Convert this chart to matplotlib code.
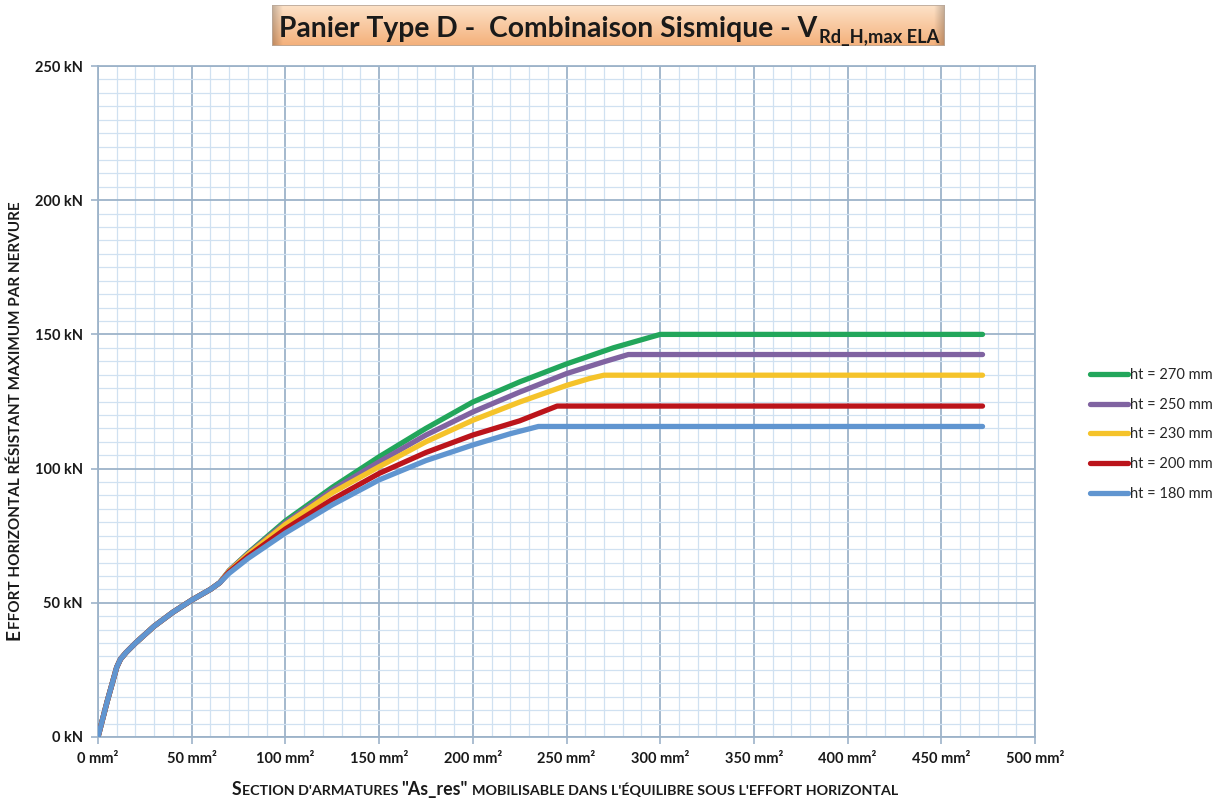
import numpy as np
import matplotlib
matplotlib.use("Agg")
import matplotlib.pyplot as plt
from matplotlib.ticker import MultipleLocator, FuncFormatter
from matplotlib.patches import Rectangle

FONT = ['Lato', 'DejaVu Sans']
plt.rcParams['font.family'] = FONT

# ---- data: As_res (mm²) -> V_Rd,H,max (kN) ----
as_common = [0, 5, 10, 12, 15, 20, 30, 40, 50, 60, 65]
v_common = [0, 13.5, 26, 29, 31.5, 35, 41.3, 46.5, 51, 55, 57.5]

series_labels = ["ht = 270 mm", "ht = 250 mm", "ht = 230 mm", "ht = 200 mm", "ht = 180 mm"]
series_colors = ['#22a65b', '#8063a1', '#f5c32a', '#bb141b', '#6095d0']

as_270 = [70, 80, 100, 125, 150, 175, 200, 225, 250, 275, 290, 300, 472]
v_270 = [62, 68.5, 80.5, 93, 104.4, 115, 124.8, 132.3, 139, 145, 148, 150, 150]
as_250 = [70, 80, 100, 125, 150, 175, 200, 225, 250, 270, 283, 472]
v_250 = [62, 68.3, 79.8, 92, 102.5, 112.5, 121.1, 128.5, 135.4, 139.8, 142.5, 142.5]
as_230 = [70, 80, 100, 125, 150, 175, 200, 225, 250, 262, 270, 472]
v_230 = [61.8, 68, 79.2, 91, 100.7, 110, 118, 124.8, 131, 133.5, 134.8, 134.8]
as_200 = [70, 80, 100, 125, 150, 175, 200, 225, 245, 472]
v_200 = [61.5, 67.3, 77.5, 88.5, 98.2, 106, 112.5, 117.8, 123.3, 123.3]
as_180 = [70, 80, 100, 125, 150, 175, 200, 220, 235, 472]
v_180 = [61, 66.5, 76, 86.5, 95.8, 103, 108.8, 113, 115.7, 115.7]

series_x = [as_270, as_250, as_230, as_200, as_180]
series_y = [v_270, v_250, v_230, v_200, v_180]

x_max, x_major, x_minor = 500, 50, 10
y_max, y_major, y_minor = 250, 50, 5

# ---- figure ----
W, H = 1231, 801
fig = plt.figure(figsize=(W / 100, H / 100), dpi=100)
fig.patch.set_facecolor('white')
ax = fig.add_axes([98 / W, 1 - 737 / H, (1035 - 98) / W, (737 - 66) / H])

for xs, ys, lab, col in zip(series_x, series_y, series_labels, series_colors):
    ax.plot(as_common + xs, v_common + ys, color=col, lw=3.8, label=lab,
            solid_capstyle='round', solid_joinstyle='round', zorder=3)

ax.set_xlim(0, x_max)
ax.set_ylim(0, y_max)
ax.xaxis.set_major_locator(MultipleLocator(x_major))
ax.xaxis.set_minor_locator(MultipleLocator(x_minor))
ax.yaxis.set_major_locator(MultipleLocator(y_major))
ax.yaxis.set_minor_locator(MultipleLocator(y_minor))
ax.xaxis.set_major_formatter(FuncFormatter(lambda v, p: f"{int(round(v))} mm²"))
ax.yaxis.set_major_formatter(FuncFormatter(lambda v, p: f"{int(round(v))} kN"))

ax.grid(which='minor', color='#d0e1f1', lw=0.9, zorder=0)
ax.grid(which='major', color='#9db3c9', lw=1.3, zorder=1)
ax.set_axisbelow(True)
for s in ax.spines.values():
    s.set_color('#9db3c9')
    s.set_linewidth(1.3)

ax.tick_params(which='major', direction='out', length=5, width=1.2, color='#9db3c9',
               labelsize=10.5, labelcolor='#1a1a1a', pad=6)
ax.tick_params(which='minor', length=0)
for lbl in ax.get_xticklabels() + ax.get_yticklabels():
    lbl.set_fontweight('bold')

leg = ax.legend(loc='center left', bbox_to_anchor=(1090 / W, 1 - 434.5 / H),
                bbox_transform=fig.transFigure, frameon=False, fontsize=10.5,
                handlelength=2.6, handletextpad=0.15, labelspacing=1.08,
                borderpad=0, borderaxespad=0)
for t in leg.get_texts():
    t.set_color('#262626')

renderer = fig.canvas.get_renderer()


def px_to_fig(px, py):
    return px / W, 1 - py / H


def measure(txt, size, weight='bold'):
    t = fig.text(0, 0, txt, fontsize=size, fontweight=weight, family=FONT)
    w = t.get_window_extent(renderer).width
    t.remove()
    return w


def space_width(size):
    return measure("x x", size) - measure("xx", size)


def draw_runs(runs, x0, y0, target_len, vertical=False, color='#1a1a1a'):
    """Draw (text, size, space_after) runs end to end, scaled to a total length."""
    def total(scale):
        tot = 0.0
        for s, sz, gap in runs:
            tot += measure(s, sz * scale)
            if gap:
                tot += space_width(sz * scale)
        return tot

    scale = target_len / total(1.0)
    pos = y0 if vertical else x0
    for s, sz, gap in runs:
        sz = sz * scale
        if vertical:
            fx, fy = px_to_fig(x0, pos)
            t = fig.text(fx, fy, s, fontsize=sz, fontweight='bold', color=color,
                         rotation=90, rotation_mode='anchor', ha='left', va='baseline',
                         family=FONT)
            pos -= t.get_window_extent(renderer).height
            if gap:
                pos -= space_width(sz)
        else:
            fx, fy = px_to_fig(pos, y0)
            t = fig.text(fx, fy, s, fontsize=sz, fontweight='bold', color=color,
                         ha='left', va='baseline', family=FONT)
            pos += t.get_window_extent(renderer).width
            if gap:
                pos += space_width(sz)
    return scale


# axis titles in small capitals
big, small = 12.0, 9.6
x_runs = [("S", big, False), ("ECTION D'ARMATURES", small, True), ('"As_res"', big, True),
          ("MOBILISABLE DANS L'ÉQUILIBRE SOUS L'EFFORT HORIZONTAL", small, False)]
draw_runs(x_runs, 232, 795, 671)

y_runs = [("E", big, False), ("FFORT HORIZONTAL RÉSISTANT MAXIMUM PAR NERVURE", small, False)]
draw_runs(y_runs, 20, 640, 443, vertical=True)

# ---- title banner ----
tx0, tx1, ty0, ty1 = 272, 945, 5, 46
tax = fig.add_axes([tx0 / W, 1 - ty1 / H, (tx1 - tx0) / W, (ty1 - ty0) / H])
ny, nx = 60, 400
top = np.array([253, 226, 200]) / 255
bot = np.array([244, 176, 122]) / 255
v = np.linspace(0, 1, ny)[:, None, None]
grad = top * (1 - v) + bot * v
hx = np.linspace(0, 1, nx)
edge = np.clip(1 - np.minimum(hx, 1 - hx) / 0.015, 0, 1)
shade = 1 - 0.22 * edge[None, :, None]
img = np.clip(grad * shade, 0, 1)
tax.imshow(img, aspect='auto', extent=[0, 1, 0, 1], interpolation='bilinear')
tax.add_patch(Rectangle((0, 0), 1, 1, transform=tax.transAxes, fill=False,
                        edgecolor='#b9a89a', lw=1.2))
tax.set_xlim(0, 1)
tax.set_ylim(0, 1)
tax.set_axis_off()

main_title = "Panier Type D -  Combinaison Sismique - V"
sub_title = "Rd_H,max ELA"
w0 = measure(main_title, 20)
tsize = 20 * 537 / w0
fx, fy = px_to_fig(279, 37)
tm = fig.text(fx, fy, main_title, fontsize=tsize, fontweight='bold', color='#1a1a1a',
              ha='left', va='baseline', family=FONT)
end_x = 279 + tm.get_window_extent(renderer).width
w1 = measure(sub_title, 12)
ssize = 12 * 120 / w1
fx, fy = px_to_fig(end_x + 2, 43)
fig.text(fx, fy, sub_title, fontsize=ssize, fontweight='bold', color='#1a1a1a',
         ha='left', va='baseline', family=FONT)

fig.savefig("out.png", dpi=100)
